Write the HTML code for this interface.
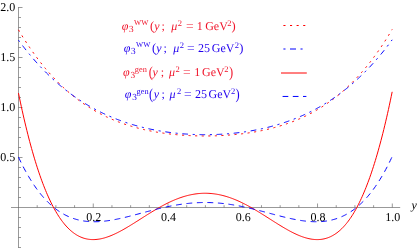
<!DOCTYPE html>
<html><head><meta charset="utf-8"><title>plot</title>
<style>
html,body{margin:0;padding:0;background:#fff;}
#c{text-rendering:geometricPrecision;will-change:transform;position:relative;width:417px;height:248px;overflow:hidden;background:#fff;font-family:"Liberation Serif",serif;}
.t{position:absolute;font-size:12px;line-height:14px;color:#000;white-space:nowrap;}
.xl{position:absolute;font-size:12px;line-height:14px;color:#000;white-space:nowrap;width:30px;text-align:center;}
.lg{position:absolute;font-size:12px;line-height:14px;white-space:nowrap;}
.lg i{font-style:italic}
.lg span{position:absolute;white-space:nowrap}
</style></head><body><div id="c">
<svg width="417" height="248" viewBox="0 0 417 248" style="position:absolute;left:0;top:0">
<g stroke="#666666" stroke-width="0.67" fill="none">
<line x1="11" y1="207.5" x2="400.2" y2="207.5"/>
<line x1="18.5" y1="7.00" x2="18.5" y2="248"/>
<line x1="37.19" y1="207.5" x2="37.19" y2="205.2"/>
<line x1="55.88" y1="207.5" x2="55.88" y2="205.2"/>
<line x1="74.57" y1="207.5" x2="74.57" y2="205.2"/>
<line x1="93.26" y1="207.5" x2="93.26" y2="203.5"/>
<line x1="111.95" y1="207.5" x2="111.95" y2="205.2"/>
<line x1="130.64" y1="207.5" x2="130.64" y2="205.2"/>
<line x1="149.33" y1="207.5" x2="149.33" y2="205.2"/>
<line x1="168.02" y1="207.5" x2="168.02" y2="203.5"/>
<line x1="186.71" y1="207.5" x2="186.71" y2="205.2"/>
<line x1="205.40" y1="207.5" x2="205.40" y2="205.2"/>
<line x1="224.09" y1="207.5" x2="224.09" y2="205.2"/>
<line x1="242.78" y1="207.5" x2="242.78" y2="203.5"/>
<line x1="261.47" y1="207.5" x2="261.47" y2="205.2"/>
<line x1="280.16" y1="207.5" x2="280.16" y2="205.2"/>
<line x1="298.85" y1="207.5" x2="298.85" y2="205.2"/>
<line x1="317.54" y1="207.5" x2="317.54" y2="203.5"/>
<line x1="336.23" y1="207.5" x2="336.23" y2="205.2"/>
<line x1="354.92" y1="207.5" x2="354.92" y2="205.2"/>
<line x1="373.61" y1="207.5" x2="373.61" y2="205.2"/>
<line x1="392.30" y1="207.5" x2="392.30" y2="203.5"/>
<line x1="18.5" y1="247.50" x2="21.0" y2="247.50"/>
<line x1="18.5" y1="237.50" x2="21.0" y2="237.50"/>
<line x1="18.5" y1="227.50" x2="21.0" y2="227.50"/>
<line x1="18.5" y1="217.50" x2="21.0" y2="217.50"/>
<line x1="18.5" y1="197.50" x2="21.0" y2="197.50"/>
<line x1="18.5" y1="187.50" x2="21.0" y2="187.50"/>
<line x1="18.5" y1="177.50" x2="21.0" y2="177.50"/>
<line x1="18.5" y1="167.50" x2="21.0" y2="167.50"/>
<line x1="18.5" y1="157.50" x2="22.5" y2="157.50"/>
<line x1="18.5" y1="147.50" x2="21.0" y2="147.50"/>
<line x1="18.5" y1="137.50" x2="21.0" y2="137.50"/>
<line x1="18.5" y1="127.50" x2="21.0" y2="127.50"/>
<line x1="18.5" y1="117.50" x2="21.0" y2="117.50"/>
<line x1="18.5" y1="107.50" x2="22.5" y2="107.50"/>
<line x1="18.5" y1="97.50" x2="21.0" y2="97.50"/>
<line x1="18.5" y1="87.50" x2="21.0" y2="87.50"/>
<line x1="18.5" y1="77.50" x2="21.0" y2="77.50"/>
<line x1="18.5" y1="67.50" x2="21.0" y2="67.50"/>
<line x1="18.5" y1="57.50" x2="22.5" y2="57.50"/>
<line x1="18.5" y1="47.50" x2="21.0" y2="47.50"/>
<line x1="18.5" y1="37.50" x2="21.0" y2="37.50"/>
<line x1="18.5" y1="27.50" x2="21.0" y2="27.50"/>
<line x1="18.5" y1="17.50" x2="21.0" y2="17.50"/>
<line x1="18.5" y1="7.50" x2="22.5" y2="7.50"/>
</g>
<path d="M18.49,29.82 L19.42,31.40 L20.36,32.96 L21.29,34.49 L22.22,36.02 L23.16,37.52 L24.09,39.01 L25.03,40.47 L25.96,41.93 L26.90,43.36 L27.83,44.78 L28.76,46.18 L29.70,47.56 L30.63,48.93 L31.57,50.28 L32.50,51.61 L33.44,52.93 L34.37,54.23 L35.30,55.52 L36.24,56.79 L37.17,58.05 L38.11,59.29 L39.04,60.51 L39.97,61.72 L40.91,62.91 L41.84,64.09 L42.78,65.26 L43.71,66.41 L44.65,67.54 L45.58,68.67 L46.51,69.77 L47.45,70.87 L48.38,71.95 L49.32,73.01 L50.25,74.06 L51.19,75.10 L52.12,76.13 L53.05,77.14 L53.99,78.14 L54.92,79.12 L55.86,80.10 L56.79,81.06 L57.72,82.00 L58.66,82.94 L59.59,83.86 L60.53,84.77 L61.46,85.67 L62.40,86.56 L63.33,87.43 L64.26,88.29 L65.20,89.15 L66.13,89.99 L67.07,90.81 L68.00,91.63 L68.94,92.44 L69.87,93.23 L70.80,94.01 L71.74,94.79 L72.67,95.55 L73.61,96.30 L74.54,97.04 L75.48,97.77 L76.41,98.49 L77.34,99.20 L78.28,99.90 L79.21,100.59 L80.15,101.27 L81.08,101.94 L82.01,102.61 L82.95,103.26 L83.88,103.90 L84.82,104.53 L85.75,105.16 L86.69,105.77 L87.62,106.37 L88.55,106.97 L89.49,107.56 L90.42,108.14 L91.36,108.71 L92.29,109.27 L93.23,109.82 L94.16,110.37 L95.09,110.90 L96.03,111.43 L96.96,111.95 L97.90,112.47 L98.83,112.97 L99.76,113.47 L100.70,113.96 L101.63,114.44 L102.57,114.91 L103.50,115.38 L104.44,115.84 L105.37,116.29 L106.30,116.73 L107.24,117.17 L108.17,117.60 L109.11,118.03 L110.04,118.44 L110.98,118.85 L111.91,119.26 L112.84,119.65 L113.78,120.04 L114.71,120.43 L115.65,120.80 L116.58,121.18 L117.51,121.54 L118.45,121.90 L119.38,122.25 L120.32,122.60 L121.25,122.94 L122.19,123.27 L123.12,123.60 L124.05,123.93 L124.99,124.24 L125.92,124.55 L126.86,124.86 L127.79,125.16 L128.73,125.46 L129.66,125.75 L130.59,126.03 L131.53,126.31 L132.46,126.59 L133.40,126.86 L134.33,127.12 L135.26,127.38 L136.20,127.63 L137.13,127.88 L138.07,128.13 L139.00,128.37 L139.94,128.61 L140.87,128.84 L141.80,129.06 L142.74,129.28 L143.67,129.50 L144.61,129.72 L145.54,129.92 L146.48,130.13 L147.41,130.33 L148.34,130.52 L149.28,130.72 L150.21,130.90 L151.15,131.09 L152.08,131.27 L153.01,131.44 L153.95,131.61 L154.88,131.78 L155.82,131.95 L156.75,132.11 L157.69,132.26 L158.62,132.42 L159.55,132.56 L160.49,132.71 L161.42,132.85 L162.36,132.99 L163.29,133.12 L164.23,133.26 L165.16,133.38 L166.09,133.51 L167.03,133.63 L167.96,133.75 L168.90,133.86 L169.83,133.97 L170.76,134.08 L171.70,134.18 L172.63,134.28 L173.57,134.38 L174.50,134.48 L175.44,134.57 L176.37,134.66 L177.30,134.74 L178.24,134.83 L179.17,134.91 L180.11,134.98 L181.04,135.06 L181.98,135.13 L182.91,135.19 L183.84,135.26 L184.78,135.32 L185.71,135.38 L186.65,135.44 L187.58,135.49 L188.51,135.54 L189.45,135.59 L190.38,135.63 L191.32,135.67 L192.25,135.71 L193.19,135.75 L194.12,135.78 L195.05,135.81 L195.99,135.84 L196.92,135.87 L197.86,135.89 L198.79,135.91 L199.73,135.93 L200.66,135.94 L201.59,135.95 L202.53,135.96 L203.46,135.97 L204.40,135.97 L205.33,135.97 L206.26,135.97 L207.20,135.97 L208.13,135.96 L209.07,135.95 L210.00,135.94 L210.94,135.92 L211.87,135.90 L212.80,135.88 L213.74,135.86 L214.67,135.83 L215.61,135.81 L216.54,135.77 L217.48,135.74 L218.41,135.70 L219.34,135.66 L220.28,135.62 L221.21,135.57 L222.15,135.53 L223.08,135.47 L224.01,135.42 L224.95,135.36 L225.88,135.30 L226.82,135.24 L227.75,135.18 L228.69,135.11 L229.62,135.04 L230.55,134.96 L231.49,134.88 L232.42,134.80 L233.36,134.72 L234.29,134.63 L235.23,134.54 L236.16,134.45 L237.09,134.36 L238.03,134.26 L238.96,134.15 L239.90,134.05 L240.83,133.94 L241.76,133.83 L242.70,133.71 L243.63,133.59 L244.57,133.47 L245.50,133.35 L246.44,133.22 L247.37,133.09 L248.30,132.95 L249.24,132.81 L250.17,132.67 L251.11,132.52 L252.04,132.37 L252.98,132.22 L253.91,132.06 L254.84,131.90 L255.78,131.74 L256.71,131.57 L257.65,131.39 L258.58,131.22 L259.51,131.04 L260.45,130.85 L261.38,130.66 L262.32,130.47 L263.25,130.27 L264.19,130.07 L265.12,129.87 L266.05,129.66 L266.99,129.44 L267.92,129.22 L268.86,129.00 L269.79,128.77 L270.73,128.54 L271.66,128.30 L272.59,128.06 L273.53,127.82 L274.46,127.56 L275.40,127.31 L276.33,127.05 L277.27,126.78 L278.20,126.51 L279.13,126.23 L280.07,125.95 L281.00,125.67 L281.94,125.38 L282.87,125.08 L283.80,124.78 L284.74,124.47 L285.67,124.15 L286.61,123.84 L287.54,123.51 L288.48,123.18 L289.41,122.84 L290.34,122.50 L291.28,122.15 L292.21,121.80 L293.15,121.44 L294.08,121.07 L295.02,120.70 L295.95,120.32 L296.88,119.93 L297.82,119.54 L298.75,119.14 L299.69,118.74 L300.62,118.33 L301.55,117.91 L302.49,117.48 L303.42,117.05 L304.36,116.61 L305.29,116.16 L306.23,115.71 L307.16,115.25 L308.09,114.78 L309.03,114.30 L309.96,113.82 L310.90,113.33 L311.83,112.83 L312.77,112.32 L313.70,111.81 L314.63,111.29 L315.57,110.76 L316.50,110.22 L317.44,109.67 L318.37,109.11 L319.30,108.55 L320.24,107.98 L321.17,107.40 L322.11,106.81 L323.04,106.21 L323.98,105.60 L324.91,104.98 L325.84,104.36 L326.78,103.72 L327.71,103.08 L328.65,102.42 L329.58,101.76 L330.52,101.08 L331.45,100.40 L332.38,99.71 L333.32,99.01 L334.25,98.29 L335.19,97.57 L336.12,96.84 L337.05,96.09 L337.99,95.34 L338.92,94.57 L339.86,93.80 L340.79,93.01 L341.73,92.21 L342.66,91.40 L343.59,90.58 L344.53,89.75 L345.46,88.91 L346.40,88.05 L347.33,87.19 L348.27,86.31 L349.20,85.42 L350.13,84.52 L351.07,83.61 L352.00,82.68 L352.94,81.74 L353.87,80.79 L354.80,79.83 L355.74,78.85 L356.67,77.86 L357.61,76.86 L358.54,75.84 L359.48,74.81 L360.41,73.77 L361.34,72.72 L362.28,71.65 L363.21,70.56 L364.15,69.47 L365.08,68.35 L366.02,67.23 L366.95,66.09 L367.88,64.93 L368.82,63.77 L369.75,62.58 L370.69,61.38 L371.62,60.17 L372.55,58.94 L373.49,57.70 L374.42,56.44 L375.36,55.16 L376.29,53.87 L377.23,52.56 L378.16,51.24 L379.09,49.90 L380.03,48.55 L380.96,47.18 L381.90,45.79 L382.83,44.38 L383.77,42.96 L384.70,41.52 L385.63,40.07 L386.57,38.59 L387.50,37.10 L388.44,35.59 L389.37,34.07 L390.30,32.52 L391.24,30.96 L392.17,29.38" fill="none" stroke="#ff0000" stroke-width="1" stroke-dasharray="2.1 4.475"/>
<path d="M18.49,40.17 L19.42,41.44 L20.36,42.69 L21.29,43.93 L22.22,45.16 L23.16,46.38 L24.09,47.59 L25.03,48.78 L25.96,49.96 L26.90,51.13 L27.83,52.28 L28.76,53.43 L29.70,54.56 L30.63,55.68 L31.57,56.79 L32.50,57.88 L33.44,58.97 L34.37,60.04 L35.30,61.11 L36.24,62.16 L37.17,63.20 L38.11,64.23 L39.04,65.24 L39.97,66.25 L40.91,67.25 L41.84,68.23 L42.78,69.21 L43.71,70.17 L44.65,71.13 L45.58,72.07 L46.51,73.00 L47.45,73.93 L48.38,74.84 L49.32,75.74 L50.25,76.63 L51.19,77.52 L52.12,78.39 L53.05,79.25 L53.99,80.11 L54.92,80.95 L55.86,81.79 L56.79,82.61 L57.72,83.43 L58.66,84.23 L59.59,85.03 L60.53,85.82 L61.46,86.60 L62.40,87.37 L63.33,88.13 L64.26,88.89 L65.20,89.63 L66.13,90.37 L67.07,91.09 L68.00,91.81 L68.94,92.52 L69.87,93.22 L70.80,93.92 L71.74,94.60 L72.67,95.28 L73.61,95.95 L74.54,96.61 L75.48,97.26 L76.41,97.91 L77.34,98.55 L78.28,99.18 L79.21,99.80 L80.15,100.41 L81.08,101.02 L82.01,101.62 L82.95,102.21 L83.88,102.80 L84.82,103.37 L85.75,103.94 L86.69,104.51 L87.62,105.06 L88.55,105.61 L89.49,106.16 L90.42,106.69 L91.36,107.22 L92.29,107.74 L93.23,108.26 L94.16,108.77 L95.09,109.27 L96.03,109.76 L96.96,110.25 L97.90,110.73 L98.83,111.21 L99.76,111.68 L100.70,112.14 L101.63,112.60 L102.57,113.05 L103.50,113.50 L104.44,113.94 L105.37,114.37 L106.30,114.80 L107.24,115.22 L108.17,115.64 L109.11,116.05 L110.04,116.45 L110.98,116.85 L111.91,117.24 L112.84,117.63 L113.78,118.01 L114.71,118.39 L115.65,118.76 L116.58,119.13 L117.51,119.49 L118.45,119.84 L119.38,120.19 L120.32,120.54 L121.25,120.88 L122.19,121.21 L123.12,121.54 L124.05,121.87 L124.99,122.19 L125.92,122.50 L126.86,122.81 L127.79,123.12 L128.73,123.42 L129.66,123.71 L130.59,124.00 L131.53,124.29 L132.46,124.57 L133.40,124.85 L134.33,125.12 L135.26,125.39 L136.20,125.65 L137.13,125.91 L138.07,126.16 L139.00,126.41 L139.94,126.66 L140.87,126.90 L141.80,127.14 L142.74,127.37 L143.67,127.60 L144.61,127.83 L145.54,128.05 L146.48,128.26 L147.41,128.48 L148.34,128.68 L149.28,128.89 L150.21,129.09 L151.15,129.29 L152.08,129.48 L153.01,129.67 L153.95,129.85 L154.88,130.03 L155.82,130.21 L156.75,130.38 L157.69,130.55 L158.62,130.72 L159.55,130.88 L160.49,131.04 L161.42,131.20 L162.36,131.35 L163.29,131.49 L164.23,131.64 L165.16,131.78 L166.09,131.92 L167.03,132.05 L167.96,132.18 L168.90,132.31 L169.83,132.43 L170.76,132.55 L171.70,132.67 L172.63,132.78 L173.57,132.89 L174.50,132.99 L175.44,133.10 L176.37,133.20 L177.30,133.29 L178.24,133.38 L179.17,133.47 L180.11,133.56 L181.04,133.64 L181.98,133.72 L182.91,133.80 L183.84,133.87 L184.78,133.94 L185.71,134.01 L186.65,134.07 L187.58,134.13 L188.51,134.19 L189.45,134.24 L190.38,134.30 L191.32,134.34 L192.25,134.39 L193.19,134.43 L194.12,134.47 L195.05,134.50 L195.99,134.53 L196.92,134.56 L197.86,134.59 L198.79,134.61 L199.73,134.63 L200.66,134.65 L201.59,134.66 L202.53,134.67 L203.46,134.68 L204.40,134.68 L205.33,134.68 L206.26,134.68 L207.20,134.68 L208.13,134.67 L209.07,134.66 L210.00,134.64 L210.94,134.63 L211.87,134.61 L212.80,134.58 L213.74,134.56 L214.67,134.53 L215.61,134.49 L216.54,134.46 L217.48,134.42 L218.41,134.38 L219.34,134.33 L220.28,134.28 L221.21,134.23 L222.15,134.17 L223.08,134.12 L224.01,134.06 L224.95,133.99 L225.88,133.92 L226.82,133.85 L227.75,133.78 L228.69,133.70 L229.62,133.62 L230.55,133.54 L231.49,133.45 L232.42,133.36 L233.36,133.27 L234.29,133.17 L235.23,133.07 L236.16,132.96 L237.09,132.86 L238.03,132.75 L238.96,132.63 L239.90,132.52 L240.83,132.40 L241.76,132.27 L242.70,132.14 L243.63,132.01 L244.57,131.88 L245.50,131.74 L246.44,131.60 L247.37,131.45 L248.30,131.31 L249.24,131.15 L250.17,131.00 L251.11,130.84 L252.04,130.67 L252.98,130.51 L253.91,130.34 L254.84,130.16 L255.78,129.98 L256.71,129.80 L257.65,129.62 L258.58,129.43 L259.51,129.23 L260.45,129.03 L261.38,128.83 L262.32,128.63 L263.25,128.42 L264.19,128.20 L265.12,127.99 L266.05,127.76 L266.99,127.54 L267.92,127.31 L268.86,127.07 L269.79,126.83 L270.73,126.59 L271.66,126.34 L272.59,126.09 L273.53,125.84 L274.46,125.58 L275.40,125.31 L276.33,125.04 L277.27,124.77 L278.20,124.49 L279.13,124.21 L280.07,123.92 L281.00,123.63 L281.94,123.33 L282.87,123.03 L283.80,122.72 L284.74,122.41 L285.67,122.10 L286.61,121.78 L287.54,121.45 L288.48,121.12 L289.41,120.78 L290.34,120.44 L291.28,120.09 L292.21,119.74 L293.15,119.39 L294.08,119.02 L295.02,118.66 L295.95,118.28 L296.88,117.91 L297.82,117.52 L298.75,117.13 L299.69,116.74 L300.62,116.34 L301.55,115.93 L302.49,115.52 L303.42,115.10 L304.36,114.68 L305.29,114.25 L306.23,113.82 L307.16,113.37 L308.09,112.93 L309.03,112.47 L309.96,112.02 L310.90,111.55 L311.83,111.08 L312.77,110.60 L313.70,110.12 L314.63,109.62 L315.57,109.13 L316.50,108.62 L317.44,108.11 L318.37,107.60 L319.30,107.07 L320.24,106.54 L321.17,106.00 L322.11,105.46 L323.04,104.91 L323.98,104.35 L324.91,103.79 L325.84,103.21 L326.78,102.63 L327.71,102.05 L328.65,101.45 L329.58,100.85 L330.52,100.24 L331.45,99.62 L332.38,99.00 L333.32,98.37 L334.25,97.73 L335.19,97.08 L336.12,96.42 L337.05,95.76 L337.99,95.09 L338.92,94.41 L339.86,93.72 L340.79,93.03 L341.73,92.32 L342.66,91.61 L343.59,90.89 L344.53,90.16 L345.46,89.42 L346.40,88.68 L347.33,87.92 L348.27,87.16 L349.20,86.38 L350.13,85.60 L351.07,84.81 L352.00,84.01 L352.94,83.20 L353.87,82.38 L354.80,81.55 L355.74,80.72 L356.67,79.87 L357.61,79.01 L358.54,78.15 L359.48,77.27 L360.41,76.39 L361.34,75.49 L362.28,74.58 L363.21,73.67 L364.15,72.74 L365.08,71.81 L366.02,70.86 L366.95,69.90 L367.88,68.94 L368.82,67.96 L369.75,66.97 L370.69,65.97 L371.62,64.96 L372.55,63.94 L373.49,62.91 L374.42,61.86 L375.36,60.81 L376.29,59.74 L377.23,58.67 L378.16,57.58 L379.09,56.48 L380.03,55.37 L380.96,54.24 L381.90,53.11 L382.83,51.96 L383.77,50.80 L384.70,49.63 L385.63,48.45 L386.57,47.25 L387.50,46.04 L388.44,44.82 L389.37,43.59 L390.30,42.34 L391.24,41.08 L392.17,39.81" fill="none" stroke="#0000ff" stroke-width="1" stroke-dasharray="2.1 4.67 5.7 4.67"/>
<path d="M18.49,93.11 L19.42,97.64 L20.36,102.08 L21.29,106.43 L22.22,110.69 L23.16,114.85 L24.09,118.93 L25.03,122.92 L25.96,126.82 L26.90,130.64 L27.83,134.37 L28.76,138.01 L29.70,141.58 L30.63,145.06 L31.57,148.46 L32.50,151.78 L33.44,155.02 L34.37,158.18 L35.30,161.27 L36.24,164.28 L37.17,167.21 L38.11,170.08 L39.04,172.86 L39.97,175.58 L40.91,178.22 L41.84,180.80 L42.78,183.30 L43.71,185.74 L44.65,188.11 L45.58,190.41 L46.51,192.65 L47.45,194.82 L48.38,196.93 L49.32,198.97 L50.25,200.96 L51.19,202.88 L52.12,204.74 L53.05,206.54 L53.99,208.29 L54.92,209.97 L55.86,211.60 L56.79,213.18 L57.72,214.70 L58.66,216.16 L59.59,217.57 L60.53,218.93 L61.46,220.24 L62.40,221.50 L63.33,222.70 L64.26,223.86 L65.20,224.97 L66.13,226.03 L67.07,227.05 L68.00,228.02 L68.94,228.94 L69.87,229.82 L70.80,230.66 L71.74,231.45 L72.67,232.20 L73.61,232.91 L74.54,233.58 L75.48,234.21 L76.41,234.80 L77.34,235.35 L78.28,235.87 L79.21,236.35 L80.15,236.79 L81.08,237.20 L82.01,237.57 L82.95,237.91 L83.88,238.22 L84.82,238.49 L85.75,238.73 L86.69,238.94 L87.62,239.12 L88.55,239.27 L89.49,239.39 L90.42,239.48 L91.36,239.55 L92.29,239.59 L93.23,239.60 L94.16,239.59 L95.09,239.55 L96.03,239.48 L96.96,239.39 L97.90,239.28 L98.83,239.15 L99.76,239.00 L100.70,238.82 L101.63,238.62 L102.57,238.40 L103.50,238.17 L104.44,237.91 L105.37,237.64 L106.30,237.34 L107.24,237.03 L108.17,236.71 L109.11,236.36 L110.04,236.01 L110.98,235.63 L111.91,235.25 L112.84,234.84 L113.78,234.43 L114.71,234.00 L115.65,233.56 L116.58,233.11 L117.51,232.65 L118.45,232.17 L119.38,231.69 L120.32,231.19 L121.25,230.69 L122.19,230.18 L123.12,229.66 L124.05,229.13 L124.99,228.59 L125.92,228.05 L126.86,227.50 L127.79,226.95 L128.73,226.39 L129.66,225.82 L130.59,225.25 L131.53,224.67 L132.46,224.10 L133.40,223.51 L134.33,222.93 L135.26,222.34 L136.20,221.75 L137.13,221.16 L138.07,220.57 L139.00,219.97 L139.94,219.38 L140.87,218.78 L141.80,218.19 L142.74,217.59 L143.67,217.00 L144.61,216.41 L145.54,215.82 L146.48,215.23 L147.41,214.64 L148.34,214.06 L149.28,213.48 L150.21,212.90 L151.15,212.32 L152.08,211.75 L153.01,211.19 L153.95,210.63 L154.88,210.07 L155.82,209.52 L156.75,208.97 L157.69,208.43 L158.62,207.90 L159.55,207.37 L160.49,206.84 L161.42,206.33 L162.36,205.82 L163.29,205.32 L164.23,204.83 L165.16,204.34 L166.09,203.86 L167.03,203.39 L167.96,202.93 L168.90,202.48 L169.83,202.03 L170.76,201.60 L171.70,201.17 L172.63,200.76 L173.57,200.35 L174.50,199.95 L175.44,199.57 L176.37,199.19 L177.30,198.83 L178.24,198.47 L179.17,198.12 L180.11,197.79 L181.04,197.47 L181.98,197.15 L182.91,196.85 L183.84,196.56 L184.78,196.29 L185.71,196.02 L186.65,195.76 L187.58,195.52 L188.51,195.29 L189.45,195.07 L190.38,194.86 L191.32,194.67 L192.25,194.49 L193.19,194.32 L194.12,194.16 L195.05,194.01 L195.99,193.88 L196.92,193.76 L197.86,193.65 L198.79,193.56 L199.73,193.48 L200.66,193.41 L201.59,193.35 L202.53,193.31 L203.46,193.28 L204.40,193.26 L205.33,193.26 L206.26,193.26 L207.20,193.29 L208.13,193.32 L209.07,193.37 L210.00,193.43 L210.94,193.50 L211.87,193.58 L212.80,193.68 L213.74,193.79 L214.67,193.92 L215.61,194.05 L216.54,194.20 L217.48,194.36 L218.41,194.54 L219.34,194.72 L220.28,194.92 L221.21,195.13 L222.15,195.35 L223.08,195.59 L224.01,195.83 L224.95,196.09 L225.88,196.36 L226.82,196.64 L227.75,196.94 L228.69,197.24 L229.62,197.56 L230.55,197.88 L231.49,198.22 L232.42,198.57 L233.36,198.93 L234.29,199.30 L235.23,199.68 L236.16,200.06 L237.09,200.46 L238.03,200.87 L238.96,201.29 L239.90,201.72 L240.83,202.16 L241.76,202.60 L242.70,203.06 L243.63,203.52 L244.57,204.00 L245.50,204.48 L246.44,204.96 L247.37,205.46 L248.30,205.96 L249.24,206.47 L250.17,206.99 L251.11,207.51 L252.04,208.04 L252.98,208.58 L253.91,209.12 L254.84,209.67 L255.78,210.22 L256.71,210.78 L257.65,211.35 L258.58,211.91 L259.51,212.48 L260.45,213.06 L261.38,213.64 L262.32,214.22 L263.25,214.80 L264.19,215.39 L265.12,215.98 L266.05,216.57 L266.99,217.16 L267.92,217.76 L268.86,218.35 L269.79,218.95 L270.73,219.54 L271.66,220.14 L272.59,220.73 L273.53,221.32 L274.46,221.92 L275.40,222.50 L276.33,223.09 L277.27,223.68 L278.20,224.26 L279.13,224.84 L280.07,225.41 L281.00,225.98 L281.94,226.54 L282.87,227.10 L283.80,227.66 L284.74,228.20 L285.67,228.74 L286.61,229.28 L287.54,229.80 L288.48,230.32 L289.41,230.83 L290.34,231.33 L291.28,231.82 L292.21,232.31 L293.15,232.78 L294.08,233.24 L295.02,233.69 L295.95,234.12 L296.88,234.55 L297.82,234.96 L298.75,235.36 L299.69,235.74 L300.62,236.11 L301.55,236.46 L302.49,236.80 L303.42,237.12 L304.36,237.43 L305.29,237.71 L306.23,237.98 L307.16,238.23 L308.09,238.47 L309.03,238.68 L309.96,238.87 L310.90,239.04 L311.83,239.19 L312.77,239.32 L313.70,239.42 L314.63,239.50 L315.57,239.56 L316.50,239.59 L317.44,239.60 L318.37,239.58 L319.30,239.53 L320.24,239.46 L321.17,239.36 L322.11,239.23 L323.04,239.07 L323.98,238.88 L324.91,238.67 L325.84,238.42 L326.78,238.13 L327.71,237.82 L328.65,237.47 L329.58,237.09 L330.52,236.67 L331.45,236.22 L332.38,235.73 L333.32,235.20 L334.25,234.64 L335.19,234.04 L336.12,233.40 L337.05,232.72 L337.99,231.99 L338.92,231.23 L339.86,230.43 L340.79,229.58 L341.73,228.69 L342.66,227.75 L343.59,226.77 L344.53,225.74 L345.46,224.66 L346.40,223.54 L347.33,222.37 L348.27,221.15 L349.20,219.88 L350.13,218.56 L351.07,217.18 L352.00,215.76 L352.94,214.28 L353.87,212.74 L354.80,211.15 L355.74,209.51 L356.67,207.80 L357.61,206.04 L358.54,204.22 L359.48,202.35 L360.41,200.41 L361.34,198.41 L362.28,196.34 L363.21,194.22 L364.15,192.03 L365.08,189.77 L366.02,187.45 L366.95,185.06 L367.88,182.61 L368.82,180.08 L369.75,177.49 L370.69,174.83 L371.62,172.09 L372.55,169.28 L373.49,166.40 L374.42,163.45 L375.36,160.41 L376.29,157.31 L377.23,154.12 L378.16,150.86 L379.09,147.52 L380.03,144.09 L380.96,140.59 L381.90,137.00 L382.83,133.33 L383.77,129.58 L384.70,125.74 L385.63,121.81 L386.57,117.80 L387.50,113.70 L388.44,109.51 L389.37,105.22 L390.30,100.85 L391.24,96.38 L392.17,91.82" fill="none" stroke="#ff0000" stroke-width="1"/>
<path d="M18.49,157.14 L19.42,159.12 L20.36,161.06 L21.29,162.95 L22.22,164.81 L23.16,166.63 L24.09,168.41 L25.03,170.15 L25.96,171.85 L26.90,173.52 L27.83,175.15 L28.76,176.75 L29.70,178.30 L30.63,179.83 L31.57,181.31 L32.50,182.76 L33.44,184.18 L34.37,185.57 L35.30,186.92 L36.24,188.24 L37.17,189.52 L38.11,190.78 L39.04,192.00 L39.97,193.19 L40.91,194.35 L41.84,195.48 L42.78,196.58 L43.71,197.65 L44.65,198.69 L45.58,199.70 L46.51,200.68 L47.45,201.64 L48.38,202.57 L49.32,203.47 L50.25,204.34 L51.19,205.19 L52.12,206.01 L53.05,206.81 L53.99,207.58 L54.92,208.32 L55.86,209.04 L56.79,209.74 L57.72,210.41 L58.66,211.06 L59.59,211.68 L60.53,212.29 L61.46,212.87 L62.40,213.43 L63.33,213.97 L64.26,214.48 L65.20,214.98 L66.13,215.45 L67.07,215.90 L68.00,216.34 L68.94,216.75 L69.87,217.15 L70.80,217.52 L71.74,217.88 L72.67,218.22 L73.61,218.54 L74.54,218.85 L75.48,219.14 L76.41,219.41 L77.34,219.66 L78.28,219.90 L79.21,220.12 L80.15,220.32 L81.08,220.51 L82.01,220.69 L82.95,220.85 L83.88,220.99 L84.82,221.13 L85.75,221.24 L86.69,221.35 L87.62,221.44 L88.55,221.52 L89.49,221.59 L90.42,221.64 L91.36,221.68 L92.29,221.71 L93.23,221.73 L94.16,221.73 L95.09,221.73 L96.03,221.72 L96.96,221.69 L97.90,221.66 L98.83,221.61 L99.76,221.56 L100.70,221.49 L101.63,221.42 L102.57,221.34 L103.50,221.25 L104.44,221.15 L105.37,221.04 L106.30,220.93 L107.24,220.80 L108.17,220.68 L109.11,220.54 L110.04,220.40 L110.98,220.25 L111.91,220.09 L112.84,219.93 L113.78,219.76 L114.71,219.58 L115.65,219.41 L116.58,219.22 L117.51,219.03 L118.45,218.84 L119.38,218.64 L120.32,218.43 L121.25,218.23 L122.19,218.02 L123.12,217.80 L124.05,217.58 L124.99,217.36 L125.92,217.14 L126.86,216.91 L127.79,216.68 L128.73,216.45 L129.66,216.21 L130.59,215.97 L131.53,215.73 L132.46,215.49 L133.40,215.25 L134.33,215.01 L135.26,214.76 L136.20,214.51 L137.13,214.27 L138.07,214.02 L139.00,213.77 L139.94,213.52 L140.87,213.27 L141.80,213.02 L142.74,212.77 L143.67,212.52 L144.61,212.28 L145.54,212.03 L146.48,211.78 L147.41,211.54 L148.34,211.29 L149.28,211.05 L150.21,210.80 L151.15,210.56 L152.08,210.32 L153.01,210.08 L153.95,209.85 L154.88,209.61 L155.82,209.38 L156.75,209.15 L157.69,208.92 L158.62,208.70 L159.55,208.48 L160.49,208.26 L161.42,208.04 L162.36,207.82 L163.29,207.61 L164.23,207.41 L165.16,207.20 L166.09,207.00 L167.03,206.80 L167.96,206.61 L168.90,206.42 L169.83,206.23 L170.76,206.04 L171.70,205.86 L172.63,205.69 L173.57,205.52 L174.50,205.35 L175.44,205.19 L176.37,205.03 L177.30,204.87 L178.24,204.72 L179.17,204.58 L180.11,204.44 L181.04,204.30 L181.98,204.17 L182.91,204.04 L183.84,203.92 L184.78,203.80 L185.71,203.69 L186.65,203.58 L187.58,203.48 L188.51,203.38 L189.45,203.29 L190.38,203.20 L191.32,203.12 L192.25,203.04 L193.19,202.97 L194.12,202.90 L195.05,202.84 L195.99,202.78 L196.92,202.73 L197.86,202.69 L198.79,202.65 L199.73,202.61 L200.66,202.58 L201.59,202.56 L202.53,202.54 L203.46,202.53 L204.40,202.52 L205.33,202.52 L206.26,202.52 L207.20,202.53 L208.13,202.55 L209.07,202.57 L210.00,202.59 L210.94,202.62 L211.87,202.66 L212.80,202.70 L213.74,202.75 L214.67,202.80 L215.61,202.86 L216.54,202.92 L217.48,202.99 L218.41,203.06 L219.34,203.14 L220.28,203.22 L221.21,203.31 L222.15,203.41 L223.08,203.50 L224.01,203.61 L224.95,203.72 L225.88,203.83 L226.82,203.95 L227.75,204.07 L228.69,204.20 L229.62,204.34 L230.55,204.47 L231.49,204.62 L232.42,204.76 L233.36,204.92 L234.29,205.07 L235.23,205.23 L236.16,205.40 L237.09,205.56 L238.03,205.74 L238.96,205.91 L239.90,206.10 L240.83,206.28 L241.76,206.47 L242.70,206.66 L243.63,206.86 L244.57,207.05 L245.50,207.26 L246.44,207.46 L247.37,207.67 L248.30,207.88 L249.24,208.10 L250.17,208.32 L251.11,208.54 L252.04,208.76 L252.98,208.99 L253.91,209.22 L254.84,209.45 L255.78,209.68 L256.71,209.91 L257.65,210.15 L258.58,210.39 L259.51,210.63 L260.45,210.87 L261.38,211.11 L262.32,211.36 L263.25,211.60 L264.19,211.85 L265.12,212.10 L266.05,212.35 L266.99,212.59 L267.92,212.84 L268.86,213.09 L269.79,213.34 L270.73,213.59 L271.66,213.84 L272.59,214.09 L273.53,214.34 L274.46,214.58 L275.40,214.83 L276.33,215.07 L277.27,215.32 L278.20,215.56 L279.13,215.80 L280.07,216.04 L281.00,216.28 L281.94,216.51 L282.87,216.74 L283.80,216.97 L284.74,217.20 L285.67,217.42 L286.61,217.64 L287.54,217.86 L288.48,218.08 L289.41,218.29 L290.34,218.49 L291.28,218.69 L292.21,218.89 L293.15,219.08 L294.08,219.27 L295.02,219.46 L295.95,219.63 L296.88,219.81 L297.82,219.97 L298.75,220.13 L299.69,220.29 L300.62,220.44 L301.55,220.58 L302.49,220.71 L303.42,220.84 L304.36,220.96 L305.29,221.07 L306.23,221.18 L307.16,221.27 L308.09,221.36 L309.03,221.44 L309.96,221.51 L310.90,221.57 L311.83,221.62 L312.77,221.67 L313.70,221.70 L314.63,221.72 L315.57,221.73 L316.50,221.73 L317.44,221.72 L318.37,221.70 L319.30,221.67 L320.24,221.62 L321.17,221.57 L322.11,221.50 L323.04,221.42 L323.98,221.32 L324.91,221.21 L325.84,221.09 L326.78,220.96 L327.71,220.81 L328.65,220.64 L329.58,220.46 L330.52,220.27 L331.45,220.06 L332.38,219.83 L333.32,219.59 L334.25,219.33 L335.19,219.06 L336.12,218.77 L337.05,218.46 L337.99,218.13 L338.92,217.78 L339.86,217.42 L340.79,217.04 L341.73,216.64 L342.66,216.22 L343.59,215.78 L344.53,215.32 L345.46,214.84 L346.40,214.34 L347.33,213.82 L348.27,213.27 L349.20,212.71 L350.13,212.12 L351.07,211.51 L352.00,210.88 L352.94,210.22 L353.87,209.55 L354.80,208.84 L355.74,208.11 L356.67,207.36 L357.61,206.59 L358.54,205.78 L359.48,204.95 L360.41,204.10 L361.34,203.22 L362.28,202.31 L363.21,201.38 L364.15,200.41 L365.08,199.42 L366.02,198.40 L366.95,197.35 L367.88,196.27 L368.82,195.17 L369.75,194.03 L370.69,192.86 L371.62,191.66 L372.55,190.43 L373.49,189.17 L374.42,187.87 L375.36,186.54 L376.29,185.18 L377.23,183.79 L378.16,182.36 L379.09,180.90 L380.03,179.40 L380.96,177.87 L381.90,176.30 L382.83,174.70 L383.77,173.06 L384.70,171.38 L385.63,169.67 L386.57,167.91 L387.50,166.12 L388.44,164.29 L389.37,162.43 L390.30,160.52 L391.24,158.57 L392.17,156.58" fill="none" stroke="#0000ff" stroke-width="1" stroke-dasharray="5.85 4.67"/>
<line x1="283.4" y1="25.5" x2="306" y2="25.5" stroke="#ff0000" stroke-width="1" stroke-dasharray="2.1 4.5"/>
<line x1="283.4" y1="49.0" x2="306" y2="49.0" stroke="#0000ff" stroke-width="1" stroke-dasharray="2.1 4.5 6.0 4.5"/>
<line x1="281" y1="73.0" x2="306.8" y2="73.0" stroke="#ff0000" stroke-width="1"/>
<line x1="282.6" y1="96.45" x2="306.4" y2="96.45" stroke="#0000ff" stroke-width="1" stroke-dasharray="5.7 4.5"/>
</svg>
<div class="t" style="right:401.8px;top:-0.4px">2.0</div>
<div class="t" style="right:401.8px;top:49.6px">1.5</div>
<div class="t" style="right:401.8px;top:99.6px">1.0</div>
<div class="t" style="right:401.8px;top:149.6px">0.5</div>
<div class="xl" style="left:78.7px;top:210.1px">0.2</div>
<div class="xl" style="left:153.4px;top:210.1px">0.4</div>
<div class="xl" style="left:228.2px;top:210.1px">0.6</div>
<div class="xl" style="left:302.9px;top:210.1px">0.8</div>
<div class="xl" style="left:377.7px;top:210.1px">1.0</div>
<div class="t" style="left:411.5px;top:198.3px;font-style:italic">y</div>
<div class="lg" style="left:0;top:0;color:#f0142a">
<span style="left:121.8px;top:18.95px;font-size:12px;"><i>φ</i></span>
<span style="left:129.1px;top:23.06px;font-size:9.3px;">3</span>
<span style="left:134.0px;top:15.63px;font-size:7.6px;">WW</span>
<span style="left:149.9px;top:19.38px;font-size:12.5px;transform:scaleY(1);">(</span>
<span style="left:154.2px;top:18.95px;font-size:12px;"><i>y</i></span>
<span style="left:161.5px;top:18.95px;font-size:12px;">;</span>
<span style="left:171.2px;top:18.95px;font-size:12px;"><i>μ</i></span>
<span style="left:177.8px;top:16.13px;font-size:8.5px;">2</span>
<span style="left:185.5px;top:18.95px;font-size:12px;transform:scaleX(1.13);transform-origin:0 50%;">=</span>
<span style="left:196.7px;top:18.95px;font-size:12px;">1</span>
<span style="left:205.2px;top:18.95px;font-size:12px;">GeV</span>
<span style="left:227.3px;top:16.13px;font-size:8.5px;">2</span>
<span style="left:231.5px;top:19.38px;font-size:12.5px;transform:scaleY(1);">)</span>
</div>
<div class="lg" style="left:0;top:0;color:#2200ee">
<span style="left:123.8px;top:40.95px;font-size:12px;"><i>φ</i></span>
<span style="left:131.1px;top:45.06px;font-size:9.3px;">3</span>
<span style="left:136.0px;top:37.64px;font-size:7.6px;">WW</span>
<span style="left:151.9px;top:41.38px;font-size:12.5px;transform:scaleY(1);">(</span>
<span style="left:156.2px;top:40.95px;font-size:12px;"><i>y</i></span>
<span style="left:163.5px;top:40.95px;font-size:12px;">;</span>
<span style="left:173.2px;top:40.95px;font-size:12px;"><i>μ</i></span>
<span style="left:179.8px;top:38.13px;font-size:8.5px;">2</span>
<span style="left:186.7px;top:40.95px;font-size:12px;transform:scaleX(1.13);transform-origin:0 50%;">=</span>
<span style="left:198.1px;top:40.95px;font-size:12px;">25</span>
<span style="left:211.8px;top:40.95px;font-size:12px;">GeV</span>
<span style="left:234.8px;top:38.13px;font-size:8.5px;">2</span>
<span style="left:239.3px;top:41.38px;font-size:12.5px;transform:scaleY(1);">)</span>
</div>
<div class="lg" style="left:0;top:0;color:#f0142a">
<span style="left:123px;top:65.25px;font-size:12px;"><i>φ</i></span>
<span style="left:130.5px;top:69.36px;font-size:9.3px;">3</span>
<span style="left:134.8px;top:63.00px;font-size:8.3px;">gen</span>
<span style="left:148.7px;top:64.88px;font-size:12.5px;transform:scaleY(1.22);">(</span>
<span style="left:152.6px;top:65.25px;font-size:12px;"><i>y</i></span>
<span style="left:160.8px;top:65.25px;font-size:12px;">;</span>
<span style="left:168.9px;top:65.25px;font-size:12px;"><i>μ</i></span>
<span style="left:175.5px;top:62.43px;font-size:8.5px;">2</span>
<span style="left:183px;top:65.25px;font-size:12px;transform:scaleX(1.13);transform-origin:0 50%;">=</span>
<span style="left:194.3px;top:65.25px;font-size:12px;">1</span>
<span style="left:202.1px;top:65.25px;font-size:12px;">GeV</span>
<span style="left:224.3px;top:62.43px;font-size:8.5px;">2</span>
<span style="left:229px;top:64.88px;font-size:12.5px;transform:scaleY(1.22);">)</span>
</div>
<div class="lg" style="left:0;top:0;color:#2200ee">
<span style="left:124.8px;top:87.25px;font-size:12px;"><i>φ</i></span>
<span style="left:132.3px;top:91.36px;font-size:9.3px;">3</span>
<span style="left:136.6px;top:85.00px;font-size:8.3px;">gen</span>
<span style="left:149.1px;top:86.88px;font-size:12.5px;transform:scaleY(1.22);">(</span>
<span style="left:153.7px;top:87.25px;font-size:12px;"><i>y</i></span>
<span style="left:161.6px;top:87.25px;font-size:12px;">;</span>
<span style="left:169.5px;top:87.25px;font-size:12px;"><i>μ</i></span>
<span style="left:177.1px;top:84.43px;font-size:8.5px;">2</span>
<span style="left:184.0px;top:87.25px;font-size:12px;transform:scaleX(1.13);transform-origin:0 50%;">=</span>
<span style="left:195px;top:87.25px;font-size:12px;">25</span>
<span style="left:208.5px;top:87.25px;font-size:12px;">GeV</span>
<span style="left:231px;top:84.43px;font-size:8.5px;">2</span>
<span style="left:235.5px;top:86.88px;font-size:12.5px;transform:scaleY(1.22);">)</span>
</div>
</div></body></html>
